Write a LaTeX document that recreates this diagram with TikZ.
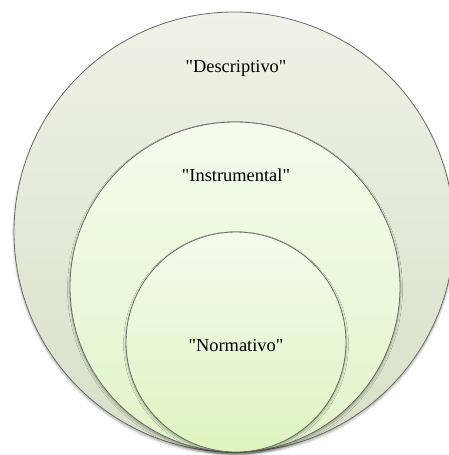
\documentclass[tikz,border=0pt]{standalone}
\usepackage{fontspec}
\setmainfont{Liberation Serif}[Ligatures=TeXOff]
\usetikzlibrary{shadows.blur}
\definecolor{outerTop}{HTML}{EEF2E7}
\definecolor{outerBot}{HTML}{D6E0C6}
\definecolor{midTop}{HTML}{F4FBEC}
\definecolor{midBot}{HTML}{E2F4C9}
\definecolor{innTop}{HTML}{F3FAEC}
\definecolor{innBot}{HTML}{DFF4BF}
\definecolor{ringline}{HTML}{6A6A6A}
\tikzset{
  ring/.style={circle, inner sep=0pt, outer sep=0pt, draw=ringline, line width=0.6pt,
    blur shadow={shadow xshift=0pt, shadow yshift=-1.5pt, shadow blur steps=6, shadow opacity=35}},
  lbl/.style={font=\fontsize{13.8}{16}\selectfont, text=black, inner sep=0pt}
}
\begin{document}
\begin{tikzpicture}[x=0.75pt,y=-0.75pt]
\useasboundingbox (0,0) rectangle (449,455);
\clip (0,0) rectangle (449,455);
\node[ring, minimum size=330pt, top color=outerTop, bottom color=outerBot] (outer) at (234,232) {};
\node[ring, minimum size=247.5pt, top color=midTop, bottom color=midBot] (mid) at (235,287) {};
\node[ring, minimum size=165pt, top color=innTop, bottom color=innBot] (inner) at (236,342) {};
\node[lbl] (d) at (236,68) {"Descriptivo"};
\node[lbl] (i) at (236,175) {"Instrumental"};
\node[lbl] (n) at (236,345) {"Normativo"};
\end{tikzpicture}
\end{document}
